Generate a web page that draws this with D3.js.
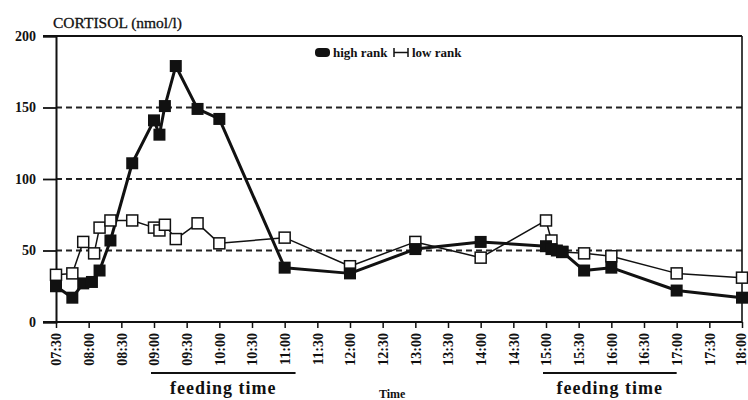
<!DOCTYPE html>
<html><head><meta charset="utf-8">
<script src="https://cdn.jsdelivr.net/npm/d3@7"></script>
<style>body{margin:0;background:#fff}svg{display:block}text{font-family:"Liberation Serif","DejaVu Serif",serif;fill:#111}</style>
</head><body><svg id="c" width="748" height="400"></svg>
<script>
const yTicks = [0, 50, 100, 150, 200];
const gridValues = [50, 100, 150];
const highTimes = ["07:30","07:45","07:55","08:03","08:10","08:20","08:40","09:00","09:05","09:10","09:20","09:40","10:00","11:00","12:00","13:00","14:00","15:00","15:05","15:10","15:15","15:35","16:00","17:00","18:00"];
const highValues = [25,17,27,28,36,57,111,141,131,151,179,149,142,38,34,51,56,53,51,50,49,36,38,22,17];
const lowTimes = ["07:30","07:45","07:55","08:05","08:10","08:20","08:40","09:00","09:05","09:10","09:20","09:40","10:00","11:00","12:00","13:00","14:00","15:00","15:05","15:15","15:35","16:00","17:00","18:00"];
const lowValues = [33,34,56,48,66,71,71,66,64,68,58,69,55,59,39,56,45,71,57,49,48,46,34,31];
const feedingPeriods = [["09:00","11:10"],["15:00","17:00"]];
const timeDomain = ["07:30","18:00"];

const parse = d3.timeParse("%H:%M");
const svg = d3.select("#c");
const x = d3.scaleTime().domain(timeDomain.map(parse)).range([56, 742]);
const y = d3.scaleLinear().domain([0, 200]).range([322, 36]);

// grid
svg.append("g").selectAll("line").data(gridValues).join("line")
  .attr("x1", 56).attr("x2", 742).attr("y1", d => y(d)).attr("y2", d => y(d))
  .attr("stroke", "#222").attr("stroke-width", 1.8).attr("stroke-dasharray", "6,4");

// frame top & right
svg.append("line").attr("x1", 43).attr("x2", 742).attr("y1", y(200)).attr("y2", y(200)).attr("stroke", "#111").attr("stroke-width", 2);
svg.append("line").attr("x1", 742).attr("x2", 742).attr("y1", y(200)).attr("y2", y(0)).attr("stroke", "#111").attr("stroke-width", 1.6);

// y axis
const ya = svg.append("g").attr("transform", "translate(56,0)")
  .call(d3.axisLeft(y).tickValues(yTicks).tickSize(13).tickPadding(7).tickFormat(d3.format("d")));
ya.select(".domain").attr("stroke", "#111").attr("stroke-width", 2);
ya.selectAll(".tick line").attr("stroke", "#111").attr("stroke-width", 1.8);
ya.selectAll("text").attr("font-size", 14).attr("font-weight", "bold").attr("font-family", "Liberation Serif");

// x axis
const xa = svg.append("g").attr("transform", "translate(0,322)")
  .call(d3.axisBottom(x).ticks(d3.timeMinute.every(30)).tickSize(6).tickFormat(d3.timeFormat("%H:%M")));
xa.select(".domain").attr("stroke", "#111").attr("stroke-width", 2).attr("d", "M43,0H742");
xa.selectAll(".tick line").attr("stroke", "#111").attr("stroke-width", 1.5);
xa.selectAll("text").attr("font-size", 14).attr("font-weight", "bold").attr("font-family", "Liberation Serif")
  .attr("transform", "rotate(-90)").attr("text-anchor", "end").attr("x", -11).attr("y", 0).attr("dy", "0.35em");
// keep the last label inside the picture
xa.selectAll(".tick text").filter((d, i, n) => i === n.length - 1).attr("y", -1.5);

// series
function series(times, values, lw) {
  const pts = times.map((t, i) => [x(parse(t)), y(values[i])]);
  svg.append("path").attr("d", d3.line()(pts)).attr("fill", "none").attr("stroke", "#111").attr("stroke-width", lw).attr("stroke-linejoin", "round");
  return pts;
}
const hp = series(highTimes, highValues, 3);
const lp = series(lowTimes, lowValues, 1.5);
svg.append("g").selectAll("rect").data(lp).join("rect")
  .attr("x", d => d[0] - 5.5).attr("y", d => d[1] - 5.5).attr("width", 11).attr("height", 11)
  .attr("fill", "#fff").attr("stroke", "#111").attr("stroke-width", 1.5);
svg.append("g").selectAll("rect").data(hp).join("rect")
  .attr("x", d => d[0] - 6).attr("y", d => d[1] - 6).attr("width", 12).attr("height", 12)
  .attr("fill", "#111");

// title
svg.append("text").attr("x", 53).attr("y", 28).attr("font-size", 15.5).attr("stroke", "#111").attr("stroke-width", 0.3).text("CORTISOL (nmol/l)");

// legend
svg.append("rect").attr("x", 315).attr("y", 48).attr("width", 15).attr("height", 9).attr("rx", 4).attr("fill", "#111");
svg.append("text").attr("x", 333).attr("y", 57).attr("font-size", 13).attr("font-weight", "bold").text("high rank");
svg.append("path").attr("d", "M394,48V57M408,48V57M394,52.5H408").attr("stroke", "#111").attr("stroke-width", 1.5).attr("fill", "none");
svg.append("text").attr("x", 412).attr("y", 57).attr("font-size", 13).attr("font-weight", "bold").text("low rank");

// feeding time
feedingPeriods.forEach(p => {
  const a = x(parse(p[0])) - 3, b = x(parse(p[1]));
  svg.append("line").attr("x1", a).attr("x2", b).attr("y1", 373).attr("y2", 373).attr("stroke", "#111").attr("stroke-width", 2.2);
  svg.append("text").attr("x", (a + b) / 2).attr("y", 394).attr("text-anchor", "middle").attr("font-size", 18).attr("font-weight", "bold").attr("letter-spacing", 1).text("feeding time");
});
svg.append("text").attr("x", 379).attr("y", 398).attr("font-size", 12).attr("font-weight", "bold").text("Time");
</script></body></html>
